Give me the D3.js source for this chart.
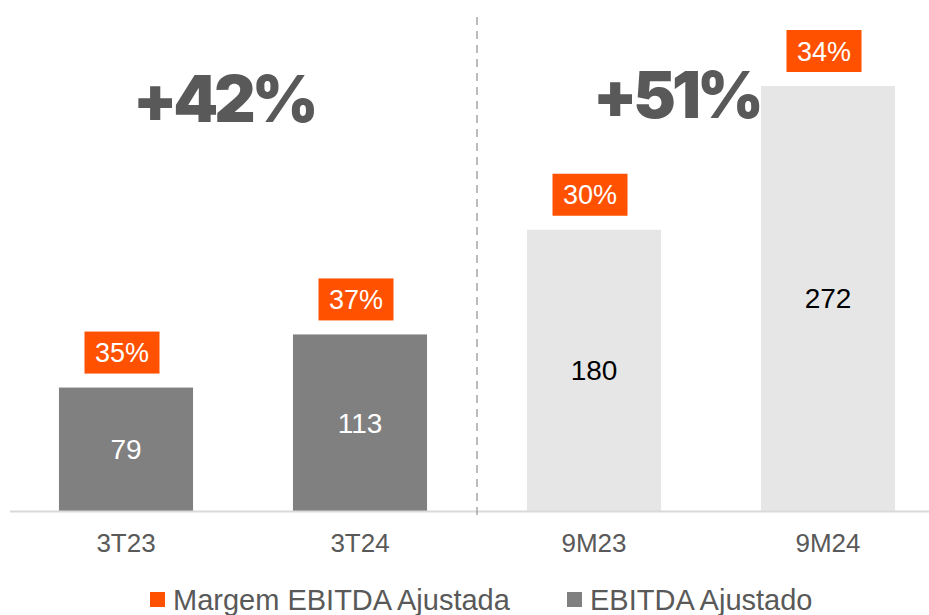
<!DOCTYPE html>
<html>
<head>
<meta charset="utf-8">
<script src="https://cdn.jsdelivr.net/npm/d3@7"></script>
<style>
  body { margin: 0; background: #fff; }
  svg { display: block; font-family: "Liberation Sans", Arial, sans-serif; }
</style>
</head>
<body>
<script>
// chart data
var categories = ["3T23", "3T24", "9M23", "9M24"];
var ebitda = [79, 113, 180, 272];
var margins = ["35%", "37%", "30%", "34%"];
var growthLabels = ["+42%", "+51%"];
var legendLabels = ["Margem EBITDA Ajustada", "EBITDA Ajustado"];

var width = 929,
    height = 615;

var svg = d3.select("body")
    .append("svg")
    .attr("width", width)
    .attr("height", height);

var x = d3.scaleBand()
    .domain(categories)
    .range([9, 945])
    .paddingInner(0.427)
    .paddingOuter(0.2135);

var y = d3.scaleLinear()
    .domain([0, 320])
    .range([511, 11]);

var barColor = function (d, i) { return i < 2 ? "#808080" : "#e6e6e6"; };

// bars
svg.selectAll(".bar")
    .data(ebitda)
    .enter()
    .append("rect")
    .attr("class", "bar")
    .attr("x", function (d, i) { return x(categories[i]); })
    .attr("y", function (d) { return y(d); })
    .attr("width", x.bandwidth())
    .attr("height", function (d) { return y(0) - y(d); })
    .attr("fill", barColor);

// value labels in the middle of the bars
svg.selectAll(".val")
    .data(ebitda)
    .enter()
    .append("text")
    .attr("class", "val")
    .attr("x", function (d, i) { return x(categories[i]) + x.bandwidth() / 2; })
    .attr("y", function (d) { return (y(d) + y(0)) / 2; })
    .attr("dy", "0.35em")
    .attr("text-anchor", "middle")
    .attr("font-size", 28)
    .attr("fill", function (d, i) { return i < 2 ? "#ffffff" : "#000000"; })
    .text(function (d) { return d; });

// margin labels (orange boxes above bars)
var boxW = 75, boxH = 42;
var tags = svg.selectAll(".tag")
    .data(margins)
    .enter()
    .append("g")
    .attr("class", "tag")
    .attr("transform", function (d, i) {
        var cx = x(categories[i]) + x.bandwidth() / 2 - 4;
        var bottom = y(ebitda[i]) - 14;
        return "translate(" + cx + "," + bottom + ")";
    });

tags.append("rect")
    .attr("x", -boxW / 2)
    .attr("y", -boxH)
    .attr("width", boxW)
    .attr("height", boxH)
    .attr("fill", "#ff5100");

tags.append("text")
    .attr("y", -boxH / 2)
    .attr("dy", "0.36em")
    .attr("text-anchor", "middle")
    .attr("font-size", 27)
    .attr("fill", "#ffffff")
    .text(function (d) { return d; });

// baseline
svg.append("line")
    .attr("x1", 10)
    .attr("x2", width)
    .attr("y1", y(0) + 0.5)
    .attr("y2", y(0) + 0.5)
    .attr("stroke", "#d9d9d9")
    .attr("stroke-width", 2);

// dashed separator between quarter and nine-month
var sepX = (x(categories[1]) + x.bandwidth() + x(categories[2])) / 2;
svg.append("line")
    .attr("x1", sepX)
    .attr("x2", sepX)
    .attr("y1", 17)
    .attr("y2", 516)
    .attr("stroke", "#a6a6a6")
    .attr("stroke-width", 1.5)
    .attr("stroke-dasharray", "8,6");

// category axis
var xAxis = svg.append("g")
    .attr("transform", "translate(0," + y(0) + ")")
    .call(d3.axisBottom(x).tickSize(0).tickPadding(23));
xAxis.select(".domain").remove();
xAxis.selectAll("text")
    .attr("font-size", 26)
    .attr("font-family", "Liberation Sans, Arial, sans-serif")
    .attr("fill", "#595959");

// growth labels, starting inside the first bar of each pair
var growthX = [x(categories[0]) + 74, x(categories[2]) + 66];
var growthY = [122, 118];
svg.selectAll(".growth")
    .data(growthLabels)
    .enter()
    .append("text")
    .attr("class", "growth")
    .attr("x", function (d, i) { return growthX[i]; })
    .attr("y", function (d, i) { return growthY[i]; })
    .attr("font-family", "Inter, Lato, 'Open Sans', sans-serif")
    .attr("font-weight", 900)
    .attr("font-size", 64)
    .attr("letter-spacing", -4)
    .attr("fill", "#595959")
    .text(function (d) { return d; });

// legend
var legendX = [150, 567];
var legendColors = ["#ff5100", "#808080"];
var legend = svg.selectAll(".legend")
    .data(legendLabels)
    .enter()
    .append("g")
    .attr("class", "legend")
    .attr("transform", function (d, i) { return "translate(" + legendX[i] + ",592)"; });

legend.append("rect")
    .attr("width", 15)
    .attr("height", 15)
    .attr("fill", function (d, i) { return legendColors[i]; });

legend.append("text")
    .attr("x", 23)
    .attr("y", 18)
    .attr("font-size", 29)
    .attr("fill", "#595959")
    .text(function (d) { return d; });
</script>
</body>
</html>
